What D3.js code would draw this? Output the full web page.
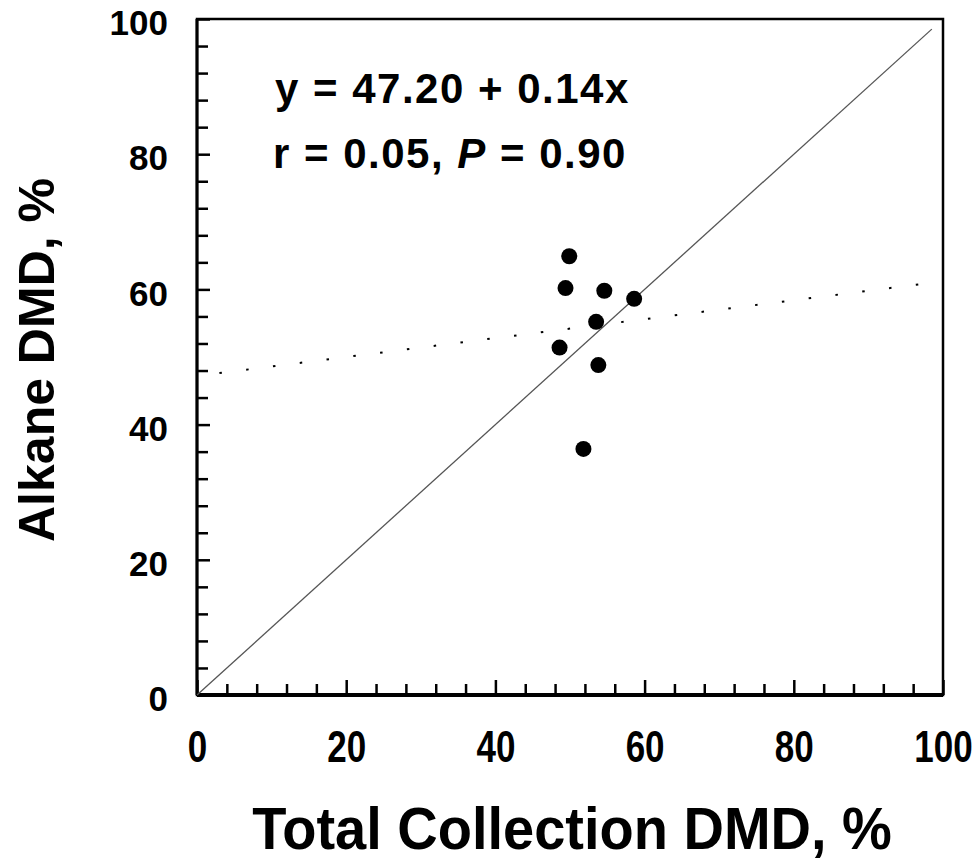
<!DOCTYPE html>
<html>
<head>
<meta charset="utf-8">
<script src="https://cdn.jsdelivr.net/npm/d3@7"></script>
<style>
  body { margin: 0; background: #fff; }
  svg text { font-family: "Liberation Sans", Arial, Helvetica, sans-serif; font-weight: bold; }
</style>
</head>
<body>
<div id="chart"></div>
<script>
// Data
var totalDMD  = [49.9, 49.4, 54.6, 58.6, 53.5, 48.6, 53.8, 51.8];
var alkaneDMD = [64.9, 60.2, 59.8, 58.6, 55.2, 51.4, 48.8, 36.4];
var fitIntercept = 47.20;
var fitSlope = 0.14;
var identityEnd = 98.5;
var majorTicks = [0, 20, 40, 60, 80, 100];

// Set up chart
var svgWidth = 980;
var svgHeight = 865;

var margin = { top: 19, right: 37, bottom: 170, left: 197 };
var width = svgWidth - margin.left - margin.right;
var height = svgHeight - margin.top - margin.bottom;

var svg = d3.select("#chart")
  .append("svg")
  .attr("width", svgWidth)
  .attr("height", svgHeight);

var chartGroup = svg.append("g")
  .attr("transform", `translate(${margin.left}, ${margin.top})`);

var xScale = d3.scaleLinear().domain([0, 100]).range([0, width]);
var yScale = d3.scaleLinear().domain([0, 100]).range([height, 0]);

var minorTicks = d3.range(0, 101, 4).filter(d => majorTicks.indexOf(d) < 0);

// Minor ticks (inward)
chartGroup.append("g")
  .attr("transform", `translate(0, ${height})`)
  .call(d3.axisBottom(xScale).tickValues(minorTicks).tickSize(-11).tickFormat(""));
chartGroup.append("g")
  .call(d3.axisLeft(yScale).tickValues(minorTicks).tickSize(-11).tickFormat(""));

// Major ticks with labels
var xAxis = chartGroup.append("g")
  .attr("transform", `translate(0, ${height})`)
  .call(d3.axisBottom(xScale).tickValues(majorTicks).tickSize(-15).tickFormat(d3.format("d")));
var yAxis = chartGroup.append("g")
  .call(d3.axisLeft(yScale).tickValues(majorTicks).tickSize(-13).tickPadding(29).tickFormat(d3.format("d")));

chartGroup.selectAll(".domain").remove();
chartGroup.selectAll(".tick line").attr("stroke", "#000").attr("stroke-width", 2.5);
chartGroup.selectAll(".tick text")
  .attr("fill", "#000")
  .style("font-size", "35px");
yAxis.selectAll(".tick text").attr("dy", "0.45em");
// x labels are drawn a little taller, as in the original
xAxis.selectAll(".tick text")
  .attr("dy", 0)
  .attr("y", 67 / 1.25)
  .attr("transform", "scale(1,1.25)");

// Frame
chartGroup.append("rect")
  .attr("x", 0).attr("y", 0)
  .attr("width", width).attr("height", height)
  .attr("fill", "none")
  .attr("stroke", "#000")
  .attr("stroke-width", 2.5);
chartGroup.append("line")
  .attr("x1", 0).attr("x2", width)
  .attr("y1", height).attr("y2", height)
  .attr("stroke", "#000").attr("stroke-width", 4);
chartGroup.append("line")
  .attr("x1", 0).attr("x2", 0)
  .attr("y1", 0).attr("y2", height)
  .attr("stroke", "#000").attr("stroke-width", 3);

// Line of identity
chartGroup.append("line")
  .attr("x1", xScale(0)).attr("y1", yScale(0))
  .attr("x2", xScale(identityEnd)).attr("y2", yScale(identityEnd))
  .attr("stroke", "#555")
  .attr("stroke-width", 1.3);

// Regression line (dotted)
chartGroup.append("line")
  .attr("x1", xScale(3)).attr("y1", yScale(fitIntercept + fitSlope * 3))
  .attr("x2", xScale(100)).attr("y2", yScale(fitIntercept + fitSlope * 100))
  .attr("stroke", "#000")
  .attr("stroke-width", 2)
  .attr("stroke-dasharray", "2.5,24.5");

// Points
chartGroup.selectAll("circle")
  .data(totalDMD.map((d, i) => ({ x: d, y: alkaneDMD[i] })))
  .enter()
  .append("circle")
  .attr("cx", d => xScale(d.x))
  .attr("cy", d => yScale(d.y))
  .attr("r", 8)
  .attr("fill", "#000");

// Equation text
chartGroup.append("text")
  .attr("x", 78)
  .attr("y", 84)
  .style("font-size", "42px")
  .style("letter-spacing", "1.5px")
  .text("y = 47.20 + 0.14x");

var stat = chartGroup.append("text")
  .attr("x", 76)
  .attr("y", 149)
  .style("font-size", "42px")
  .style("letter-spacing", "1.5px");
stat.append("tspan").text("r = 0.05, ");
stat.append("tspan").style("font-style", "italic").text("P");
stat.append("tspan").text(" = 0.90");

// Axis titles
svg.append("text")
  .attr("transform", "translate(572, 849) scale(1,1.05)")
  .attr("text-anchor", "middle")
  .style("font-size", "56px")
  .text("Total Collection DMD, %");

svg.append("text")
  .attr("transform", "rotate(-90)")
  .attr("x", -360)
  .attr("y", 54)
  .attr("text-anchor", "middle")
  .style("font-size", "50px")
  .text("Alkane DMD, %");
</script>
</body>
</html>
